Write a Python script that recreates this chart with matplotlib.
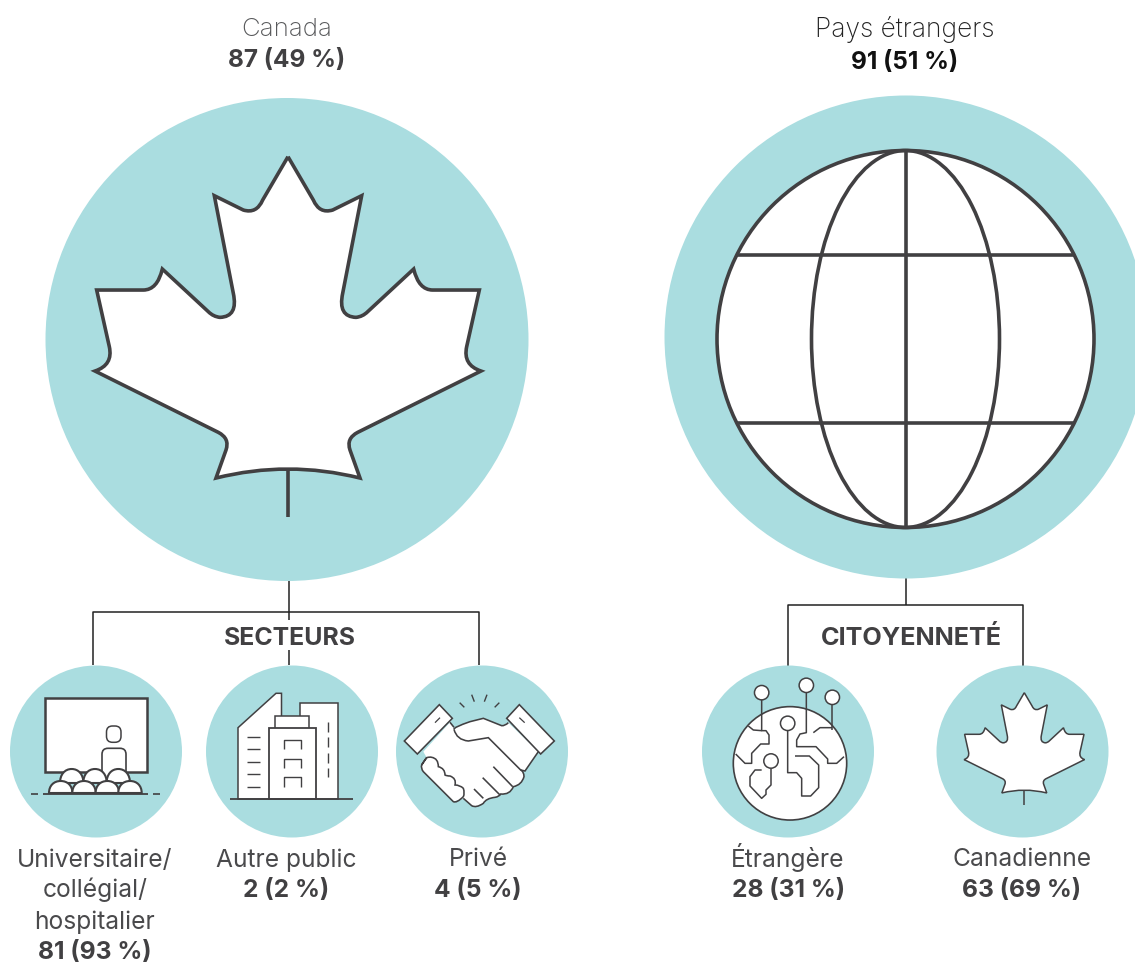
import matplotlib
matplotlib.use("Agg")
import matplotlib.pyplot as plt
from matplotlib.patches import Circle, Ellipse, PathPatch, Polygon, Rectangle, FancyBboxPatch
from matplotlib.path import Path

## chart values
origin_names = ["Canada", "Pays étrangers"]
origin_counts = [87, 91]
origin_pcts = [49, 51]

sector_names = ["Universitaire/\ncollégial/\nhospitalier", "Autre public", "Privé"]
sector_counts = [81, 2, 4]
sector_pcts = [93, 2, 5]

citizen_names = ["Étrangère", "Canadienne"]
citizen_counts = [28, 63]
citizen_pcts = [31, 69]

group_titles = ["SECTEURS", "CITOYENNETÉ"]

TEAL = "#aaddE0"
DARK = "#414042"

plt.rcParams["font.family"] = ["Inter", "Liberation Sans", "DejaVu Sans"]
plt.rcParams["text.kerning_factor"] = 6

fig = plt.figure(figsize=(11.35, 9.63), dpi=100)
ax = fig.add_axes([0, 0, 1, 1])
ax.set_xlim(0, 1135)
ax.set_ylim(963, 0)
ax.axis("off")


def line(pts, lw=1.4, color=DARK, z=5):
    ax.plot([p[0] for p in pts], [p[1] for p in pts], color=color, lw=lw, zorder=z,
            solid_capstyle="butt", solid_joinstyle="round")


def disc(x, y, r):
    ax.add_patch(Circle((x, y), r, fc=TEAL, ec="none", zorder=1))


## half outline of the leaf, traced from the top tip to the bottom left corner
leaf_half = [
    ("L", 548, 180), ("Q", 530, 222, 490, 210), ("L", 403, 167), ("L", 460, 460),
    ("Q", 475, 530, 420, 532), ("Q", 400, 530, 385, 515), ("L", 247, 387),
    ("Q", 232, 450, 190, 450), ("L", 50, 450), ("L", 88, 620),
    ("Q", 100, 675, 45, 693), ("L", 415, 877), ("Q", 450, 895, 438, 930),
    ("L", 408, 1014),
]


def leaf(cx, top, scale, stem_end, lw):
    mid = 624
    def tx(x, y):
        return (cx + (x - mid) * scale, top + (y - 50) * scale)
    verts = [tx(mid, 50)]
    codes = [Path.MOVETO]
    for s in leaf_half:
        if s[0] == "L":
            verts.append(tx(s[1], s[2]))
            codes.append(Path.LINETO)
        else:
            verts += [tx(s[1], s[2]), tx(s[3], s[4])]
            codes += [Path.CURVE3, Path.CURVE3]
    ## bottom edge
    verts += [tx(mid, 960), tx(2 * mid - 408, 1014)]
    codes += [Path.CURVE3, Path.CURVE3]
    ## mirror the left side back up to the tip
    ends = [(mid, 50)]
    for s in leaf_half:
        ends.append((s[-2], s[-1]))
    for i in range(len(leaf_half) - 1, -1, -1):
        s = leaf_half[i]
        ex, ey = ends[i]
        if s[0] == "L":
            verts.append(tx(2 * mid - ex, ey))
            codes.append(Path.LINETO)
        else:
            verts += [tx(2 * mid - s[1], s[2]), tx(2 * mid - ex, ey)]
            codes += [Path.CURVE3, Path.CURVE3]
    ax.add_patch(PathPatch(Path(verts, codes), fc="white", ec=DARK, lw=lw, zorder=3,
                           joinstyle="miter"))
    line([tx(mid, 985), (cx, stem_end)], lw=lw, z=4)


## big circles
disc(287, 339.5, 241.5)
disc(906, 337, 241.5)
leaf(288, 156.7, 1 / 3, 517, 2.6)

## big globe
ax.add_patch(Circle((905.5, 339), 188.5, fc="white", ec=DARK, lw=2.6, zorder=3))
ax.add_patch(Ellipse((905.5, 339), 188, 377, fc="none", ec=DARK, lw=2.6, zorder=4))
line([(905.5, 151), (905.5, 527)], lw=2.6)
line([(737, 255.5), (1074, 255.5)], lw=2.6)
line([(737, 423), (1074, 423)], lw=2.6)

## connectors
line([(289, 581), (289, 620)], lw=1.1, color="#222222", z=0.5)
line([(289, 650), (289, 665)], lw=1.1, color="#222222", z=0.5)
line([(93, 665), (93, 612), (479, 612), (479, 665)], lw=1.1, color="#222222", z=0.5)
line([(906, 578), (906, 605)], lw=1.1, color="#222222", z=0.5)
line([(788, 666), (788, 605), (1023, 605), (1023, 666)], lw=1.1, color="#222222", z=0.5)

## small circles
for cx in [96, 292, 482, 788, 1022.5]:
    disc(cx, 751.5, 86)


## crops were traced at 3x, convert back to picture pixels
def b(x, y):
    return (690 + x / 3, 660 + y / 3)


def h(x, y):
    return (400 + x / 3, 690 + y / 3)


def traced(start, segs):
    ## (x, y) is a straight piece, (cx, cy, x, y) a curved one
    verts = [h(*start)]
    codes = [Path.MOVETO]
    for s in segs:
        if len(s) == 2:
            verts.append(h(*s))
            codes.append(Path.LINETO)
        else:
            verts += [h(s[0], s[1]), h(s[2], s[3])]
            codes += [Path.CURVE3, Path.CURVE3]
    return verts, codes


def stroke(start, segs, lw=1.15, z=5):
    verts, codes = traced(start, segs)
    ax.add_patch(PathPatch(Path(verts, codes), fc="none", ec=DARK, lw=lw, zorder=z))


def dome(cx, top, bottom, half=11.7, z=5):
    d = bottom - top
    p = Path([(cx - half, bottom), (cx - half, bottom - 0.6 * d), (cx - 0.6 * half, top), (cx, top),
              (cx + 0.6 * half, top), (cx + half, bottom - 0.6 * d), (cx + half, bottom),
              (cx - half, bottom)],
             [Path.MOVETO, Path.CURVE4, Path.CURVE4, Path.CURVE4, Path.CURVE4,
              Path.CURVE4, Path.CURVE4, Path.CLOSEPOLY])
    ax.add_patch(PathPatch(p, fc="white", ec=DARK, lw=1.5, zorder=z))


## presentation room
ax.add_patch(Rectangle((44.5, 698), 102, 74, fc="white", ec=DARK, lw=1.8, zorder=3))
ax.add_patch(FancyBboxPatch((106.5, 726), 14.5, 16.3, boxstyle="round,pad=0,rounding_size=6",
                            fc="white", ec=DARK, lw=1.1, zorder=4))
ax.add_patch(FancyBboxPatch((102, 748.3), 24, 30, boxstyle="round,pad=0,rounding_size=6",
                            fc="white", ec=DARK, lw=1.2, zorder=4))
for cx in [71.7, 95, 118.3]:
    dome(cx, 769, 783, z=5)
for cx in [60.7, 84, 107.3, 130]:
    dome(cx, 781, 793, z=6)
line([(43, 794), (148, 794)], lw=1.3, z=7)
line([(31, 794), (38, 794)], lw=1.2, z=7)
line([(152.5, 794), (159.5, 794)], lw=1.2, z=7)

## buildings
ax.add_patch(Polygon([(238, 799), (238, 727.7), (276, 693.3), (281.5, 693.3), (281.5, 799)],
                     fc="white", ec=DARK, lw=1.1, zorder=3))
ax.add_patch(Rectangle((300, 702.7), 37.8, 96.3, fc="white", ec=DARK, lw=1.1, zorder=3))
ax.add_patch(Rectangle((275, 715.7), 34, 13, fc="white", ec=DARK, lw=1.1, zorder=4))
ax.add_patch(Rectangle((269, 728), 46.6, 71, fc="white", ec=DARK, lw=1.3, zorder=5))
line([(229.6, 799), (353, 799)], lw=1.3, z=6)
for y in [737, 749.3, 761.7, 774.3, 786.7]:
    line([(247.4, y), (260, y)], lw=1.0)
for y0, y1 in [(721.7, 731.7), (737.3, 747.3), (752.7, 762.7), (768.3, 777.3)]:
    line([(327.8, y0), (327.8, y1)], lw=1.0)
for y in [740, 758.7, 777.3]:
    line([(284.4, y + 9.5), (284.4, y), (300.7, y), (300.7, y + 9.5)], lw=1.0, z=6)

## handshake
fist = [(65, 225), (62, 235, 70, 245), (160, 335), (170, 340, 190, 320), (195, 310, 190, 295),
        (180, 285, 165, 285), (170, 265, 150, 258), (140, 258, 135, 255), (135, 235, 115, 230),
        (115, 205, 95, 202), (90, 200, 80, 203), (72, 212, 65, 225)]
fingers = [(215, 347), (228, 355, 250, 340), (258, 325, 285, 322), (298, 320, 302, 312),
           (330, 315, 340, 290), (365, 285, 372, 260), (372, 245, 362, 240)]
top_hand = [(160, 112, 210, 95), (250, 85), (305, 107), (315, 108, 325, 98)]
thumb = [(170, 150, 205, 153), (265, 143), (362, 240), (375, 243), (415, 185)]

body = [(70, 185), (80, 203), (65, 225), (62, 235, 70, 245), (160, 335), (190, 325)] + fingers + \
       [(375, 243), (415, 185), (325, 98), (305, 107), (250, 85), (210, 95), (162, 115)]
v, c = traced((150, 97), body + [(150, 97)])
ax.add_patch(PathPatch(Path(v, c), fc="white", ec="none", zorder=3))
stroke((162, 118), top_hand)
stroke((162, 118), thumb)
stroke((150, 97), [(162, 112)])
stroke((190, 325), fingers)
stroke((80, 203), fist, z=5.5)
for s, e in [((280, 230), (338, 290)), ((248, 263), (300, 315)), ((222, 297), (250, 325))]:
    stroke(s, [e])
for cuff in [[(118, 44), (157, 85), (52, 192), (13, 153)],
             [(358, 44), (463, 153), (422, 192), (320, 85)]]:
    ax.add_patch(Polygon([h(*p) for p in cuff], fc="white", ec=DARK, lw=1.15, zorder=6))
line([h(105, 98), h(120, 83)], lw=0.9, z=7)
line([h(358, 83), h(374, 98)], lw=0.9, z=7)
for s, e in [((179, 38), (193, 52)), ((215, 14), (223, 35)),
             ((261, 14), (253, 35)), ((298, 38), (284, 52))]:
    line([h(*s), h(*e)], lw=1.0)

## digital globe
ax.add_patch(Circle(b(300, 310), 56.7, fc="white", ec=DARK, lw=1.2, zorder=3))
circuits = [
    [(215, 120), (215, 212), (228, 212), (237, 225), (237, 252), (212, 252), (185, 280),
     (185, 310), (165, 310), (137, 282)],
    [(175, 198), (190, 210), (215, 212)],
    [(349, 98), (349, 218), (330, 222), (320, 240), (320, 260), (378, 260), (413, 297),
     (413, 310), (440, 310), (462, 290)],
    [(427, 134), (427, 210)],
    [(427, 203), (390, 203), (370, 218)],
    [(293, 212), (293, 338), (320, 338), (335, 355), (335, 408), (362, 408), (386, 383),
     (386, 315), (358, 288), (315, 288)],
    [(243, 325), (243, 375), (228, 390), (228, 403), (215, 415), (180, 378), (180, 350),
     (195, 330), (215, 330)],
]
for c in circuits:
    line([b(*p) for p in c], lw=1.1)
for x, y in [(215, 98), (349, 76), (427, 112), (293, 190), (243, 303)]:
    ax.add_patch(Circle(b(x, y), 7.2, fc="white", ec=DARK, lw=1.1, zorder=6))

## small leaf, about a third of the crop it was traced on
leaf(1024.3, 692.7, 0.312 / 3, 805, 1.1)


## labels
def count(n, p):
    return f"{n} ({p} %)"


def label(x, y, s, bold=False, color=DARK, size=17.7, weight=None):
    ax.text(x, y, s, ha="center", va="baseline", fontsize=size, color=color,
            fontweight=weight or ("bold" if bold else "normal"), zorder=10)


label(287, 36, origin_names[0], size=18.6, color="#58595b", weight="light")
label(287, 67.5, count(origin_counts[0], origin_pcts[0]), True, size=17.6)
label(905, 37, origin_names[1], size=19.0, color="#222222", weight="light")
label(905, 69.5, count(origin_counts[1], origin_pcts[1]), True, size=17.6, color="#111111")

label(290, 645, group_titles[0], True, size=17.9)
label(911, 645, group_titles[1], True, size=18.2)

x_sector = [95, 286, 478]
x_citizen = [788, 1022]
for x, name, n, p in zip(x_sector + x_citizen, sector_names + citizen_names,
                         sector_counts + citizen_counts, sector_pcts + citizen_pcts):
    y = 866.5
    for part in name.split("\n"):
        label(x, y, part, color="#4a4a4c")
        y += 31
    label(x, y, count(n, p), True)

fig.savefig("out.png", dpi=100)
